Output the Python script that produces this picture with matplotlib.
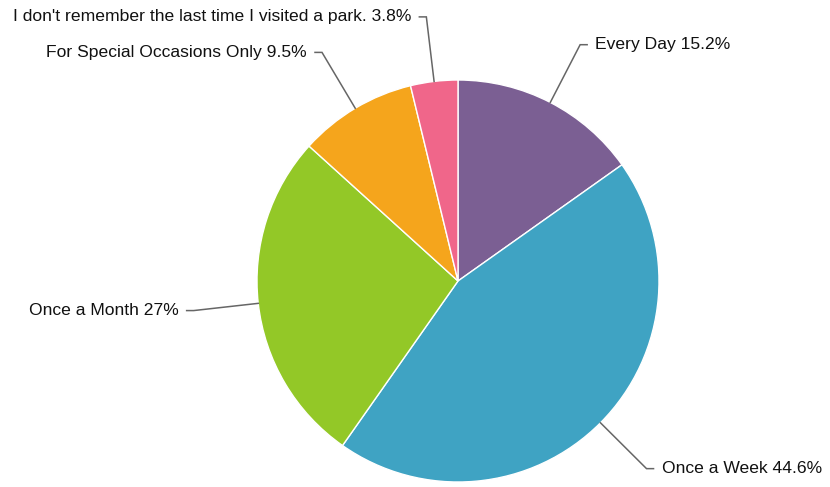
import matplotlib
matplotlib.use('Agg')
import matplotlib.pyplot as plt
import numpy as np

labels = ['Every Day', 'Once a Week', 'Once a Month', 'For Special Occasions Only',
          "I don't remember the last time I visited a park."]
pct_text = ['15.2%', '44.6%', '27%', '9.5%', '3.8%']
values = [15.2, 44.6, 27.0, 9.5, 3.8]
colors = ['#7B5F93', '#3FA3C3', '#93C827', '#F5A51C', '#F0668A']

W, H = 830, 487
cx, cy, radius = 458, H - 281, 201

fig = plt.figure(figsize=(W / 100, H / 100), dpi=100)
ax = fig.add_axes([0, 0, 1, 1])

wedges, _ = ax.pie(values, colors=colors, startangle=90, counterclock=False,
                   center=(cx, cy), radius=radius, frame=True,
                   wedgeprops=dict(edgecolor='white', linewidth=1))
ax.set_xlim(0, W)
ax.set_ylim(0, H)
ax.axis('off')

# leader lines: edge -> elbow on radial line -> short horizontal tail -> text
for w, lab, pt in zip(wedges, labels, pct_text):
    ang = np.deg2rad((w.theta1 + w.theta2) / 2)
    x0, y0 = cx + radius * np.cos(ang), cy + radius * np.sin(ang)
    x1, y1 = cx + 266 * np.cos(ang), cy + 266 * np.sin(ang)
    side = 1 if np.cos(ang) >= 0 else -1
    x2 = x1 + side * 7
    ax.plot([x0, x1, x2], [y0, y1, y1], color='#666666', lw=1.1, solid_joinstyle='miter')
    ax.text(x2 + side * 8, y1, f'{lab} {pt}', ha='left' if side > 0 else 'right',
            va='center', fontsize=12.6, family='Liberation Sans', color='#111111')

fig.savefig('out.png', dpi=100)
